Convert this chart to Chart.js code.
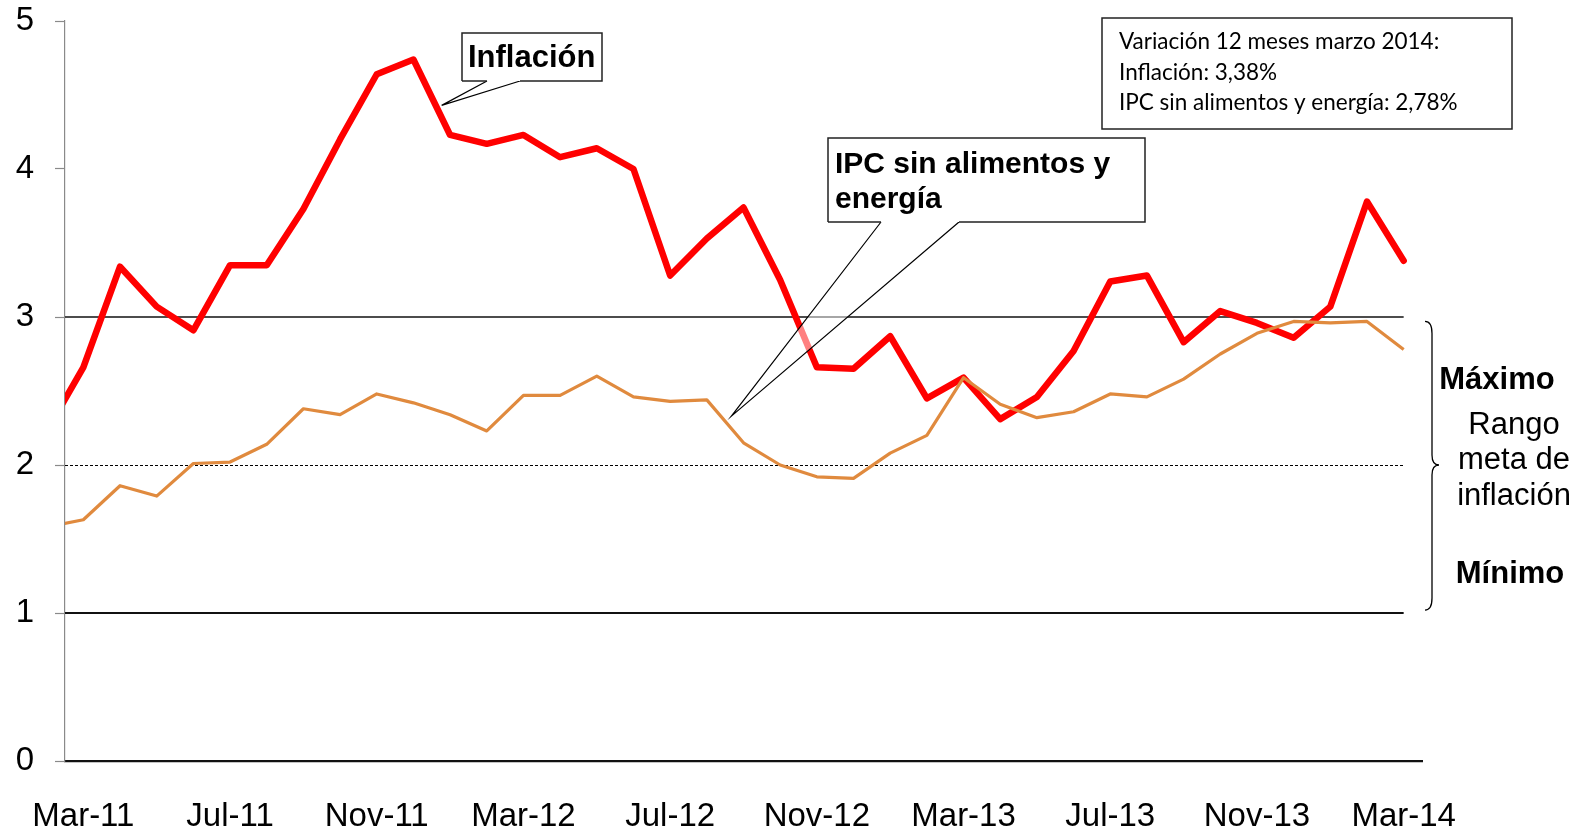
<!DOCTYPE html>
<html><head><meta charset="utf-8">
<script src="https://cdn.jsdelivr.net/npm/chart.js@4.4.1/dist/chart.umd.min.js"></script>
<style>html,body{margin:0;padding:0;background:#fff;}canvas{display:block;}</style>
</head><body>
<canvas id="c" width="1586" height="832"></canvas>
<script>
// ---- data ----
const months = ['Feb-11','Mar-11','Apr-11','May-11','Jun-11','Jul-11','Aug-11','Sep-11','Oct-11','Nov-11','Dec-11',
  'Jan-12','Feb-12','Mar-12','Apr-12','May-12','Jun-12','Jul-12','Aug-12','Sep-12','Oct-12','Nov-12','Dec-12',
  'Jan-13','Feb-13','Mar-13','Apr-13','May-13','Jun-13','Jul-13','Aug-13','Sep-13','Oct-13','Nov-13','Dec-13',
  'Jan-14','Feb-14','Mar-14'];
const inflacion = [2.23,2.66,3.34,3.07,2.91,3.35,3.35,3.73,4.20,4.64,4.74,
  4.23,4.17,4.23,4.08,4.14,4.00,3.28,3.53,3.74,3.25,2.66,2.65,
  2.87,2.45,2.59,2.31,2.46,2.77,3.24,3.28,2.83,3.04,2.96,2.86,
  3.07,3.78,3.38];
const ipcSinAlimentos = [1.58,1.63,1.86,1.79,2.01,2.02,2.14,2.38,2.34,2.48,2.42,
  2.34,2.23,2.47,2.47,2.60,2.46,2.43,2.44,2.15,2.00,1.92,1.91,
  2.08,2.20,2.59,2.41,2.32,2.36,2.48,2.46,2.58,2.75,2.89,2.97,
  2.96,2.97,2.78];
const tickLabels = ['Mar-11','Jul-11','Nov-11','Mar-12','Jul-12','Nov-12','Mar-13','Jul-13','Nov-13','Mar-14'];
const yTicks = [0,1,2,3,4,5];
const rangeBounds = [1, 3];   // Mínimo, Máximo
const rangeCenter = [2];
const infoLines = ['Variación 12 meses marzo 2014:', 'Inflación: 3,38%', 'IPC sin alimentos y energía: 2,78%'];

const firstShown = months.indexOf('Mar-11');
const lastShown = months.indexOf('Mar-14');

const ARIAL = '"Liberation Sans", Arial, sans-serif';

const overlay = {
  id: 'overlay',
  beforeDatasetsDraw(chart) {
    const {ctx, chartArea: a, scales: {x, y}} = chart;
    const xEnd = x.getPixelForValue(lastShown);
    ctx.save();
    rangeBounds.forEach((v, i) => {
      const py = y.getPixelForValue(v);
      ctx.beginPath();
      ctx.strokeStyle = '#111';
      ctx.lineWidth = i === 0 ? 2.2 : 1.5;
      ctx.moveTo(a.left, py); ctx.lineTo(xEnd, py); ctx.stroke();
    });
    rangeCenter.forEach(v => {
      const py = Math.round(y.getPixelForValue(v)) + 0.5;
      ctx.beginPath();
      ctx.setLineDash([3, 2]);
      ctx.strokeStyle = '#000';
      ctx.lineWidth = 1;
      ctx.moveTo(a.left, py); ctx.lineTo(xEnd, py); ctx.stroke();
    });
    ctx.restore();
  },
  afterDraw(chart) {
    const {ctx, scales: {x, y}} = chart;
    ctx.save();
    function callout(box, baseXs, tip, lines, font, tx, baselines) {
      ctx.beginPath();
      ctx.moveTo(baseXs[0], box.b);
      ctx.lineTo(tip.x, tip.y);
      ctx.lineTo(baseXs[1], box.b);
      ctx.closePath();
      ctx.fillStyle = 'rgba(255,255,255,0.5)';
      ctx.fill();
      ctx.beginPath();
      ctx.moveTo(baseXs[0], box.b); ctx.lineTo(tip.x, tip.y); ctx.lineTo(baseXs[1], box.b);
      ctx.strokeStyle = '#000'; ctx.lineWidth = 1.2; ctx.stroke();
      ctx.fillStyle = '#fff';
      ctx.fillRect(box.l, box.t, box.r - box.l, box.b - box.t);
      ctx.beginPath();
      ctx.moveTo(box.l, box.b); ctx.lineTo(box.l, box.t); ctx.lineTo(box.r, box.t); ctx.lineTo(box.r, box.b);
      ctx.lineTo(baseXs[1], box.b);
      ctx.moveTo(baseXs[0], box.b); ctx.lineTo(box.l, box.b);
      ctx.lineWidth = 1.5; ctx.strokeStyle = '#222'; ctx.stroke();
      ctx.fillStyle = '#000'; ctx.font = font; ctx.textAlign = 'left'; ctx.textBaseline = 'alphabetic';
      lines.forEach((t, i) => ctx.fillText(t, tx, baselines[i]));
    }
    callout({l: 462, t: 33, r: 602, b: 81}, [487, 520],
      {x: x.getPixelForValue(10.77), y: y.getPixelForValue(4.43)},
      ['Inflación'], 'bold 31px ' + ARIAL, 468, [67]);
    callout({l: 828, t: 138, r: 1145, b: 222}, [881, 959],
      {x: x.getPixelForValue(18.67), y: y.getPixelForValue(2.33)},
      ['IPC sin alimentos y', 'energía'], 'bold 30px ' + ARIAL, 835, [173, 208]);

    // info box
    ctx.fillStyle = '#fff';
    ctx.fillRect(1102, 18, 410, 111);
    ctx.strokeStyle = '#222'; ctx.lineWidth = 1.5;
    ctx.strokeRect(1102, 18, 410, 111);
    let fs = 20;
    ctx.font = fs + 'px Lato, "Open Sans", sans-serif';
    fs = fs * 320 / ctx.measureText(infoLines[0]).width;
    ctx.font = fs.toFixed(1) + 'px Lato, "Open Sans", sans-serif';
    ctx.fillStyle = '#000'; ctx.textAlign = 'left'; ctx.textBaseline = 'alphabetic';
    [49, 79.5, 110].forEach((b, i) => ctx.fillText(infoLines[i], 1119, b));

    // brace }
    const yTop = y.getPixelForValue(2.97), yBot = y.getPixelForValue(1.02), yMid = y.getPixelForValue(rangeCenter[0]);
    const xe = 1425, xs = 1432, xp = 1439;
    ctx.beginPath();
    ctx.moveTo(xe, yTop);
    ctx.quadraticCurveTo(xs, yTop, xs, yTop + 12);
    ctx.lineTo(xs, yMid - 10);
    ctx.quadraticCurveTo(xs, yMid, xp, yMid);
    ctx.quadraticCurveTo(xs, yMid, xs, yMid + 10);
    ctx.lineTo(xs, yBot - 12);
    ctx.quadraticCurveTo(xs, yBot, xe, yBot);
    ctx.strokeStyle = '#000'; ctx.lineWidth = 1.3; ctx.stroke();

    ctx.textAlign = 'center'; ctx.textBaseline = 'alphabetic'; ctx.fillStyle = '#000';
    ctx.font = 'bold 31px ' + ARIAL;
    ctx.fillText('Máximo', 1497, 389);
    ctx.fillText('Mínimo', 1510, 583);
    ctx.font = '31px ' + ARIAL;
    ctx.fillText('Rango', 1514, 434);
    ctx.fillText('meta de', 1514, 469);
    ctx.fillText('inflación', 1514, 505);
    ctx.restore();
  }
};

const toPoints = arr => arr.map((v, i) => ({x: i, y: v}));

new Chart(document.getElementById('c'), {
  type: 'line',
  data: {
    datasets: [
      {label: 'IPC sin alimentos y energía', data: toPoints(ipcSinAlimentos), borderColor: '#E08A3E',
       borderWidth: 3.2, pointRadius: 0, tension: 0, clip: 0, order: 0, borderJoinStyle: 'round'},
      {label: 'Inflación', data: toPoints(inflacion), borderColor: '#FF0000',
       borderWidth: 6.5, pointRadius: 0, tension: 0, clip: 0, order: 1, borderJoinStyle: 'round', borderCapStyle: 'round'}
    ]
  },
  options: {
    responsive: false,
    animation: false,
    events: [],
    layout: {padding: {left: 0, top: 21, right: 164, bottom: 0}},
    plugins: {legend: {display: false}, tooltip: {enabled: false}},
    scales: {
      x: {
        type: 'linear',
        min: firstShown - 0.5,
        max: lastShown + 0.5,
        afterBuildTicks: s => { s.ticks = tickLabels.map(l => ({value: months.indexOf(l)})); },
        afterFit: s => { s.height = 71; s.paddingLeft = 0; s.paddingRight = 0; },
        grid: {display: true, drawOnChartArea: false, drawTicks: false},
        border: {display: true, color: '#111', width: 2.2},
        ticks: {
          autoSkip: false, maxRotation: 0, padding: 36,
          color: '#000', font: {family: ARIAL, size: 33},
          callback: v => months[v]
        }
      },
      y: {
        min: 0, max: 5,
        afterBuildTicks: s => { s.ticks = yTicks.map(v => ({value: v})); },
        afterFit: s => { s.width = 65; s.paddingTop = 0; s.paddingBottom = 0; },
        grid: {display: true, drawOnChartArea: false, drawTicks: true, tickLength: 10, tickColor: '#8a8a8a', tickWidth: 1.2},
        border: {display: true, color: '#8a8a8a', width: 1.2},
        ticks: {padding: 21, color: '#000', font: {family: ARIAL, size: 33}}
      }
    }
  },
  plugins: [overlay]
});
</script>
</body></html>
